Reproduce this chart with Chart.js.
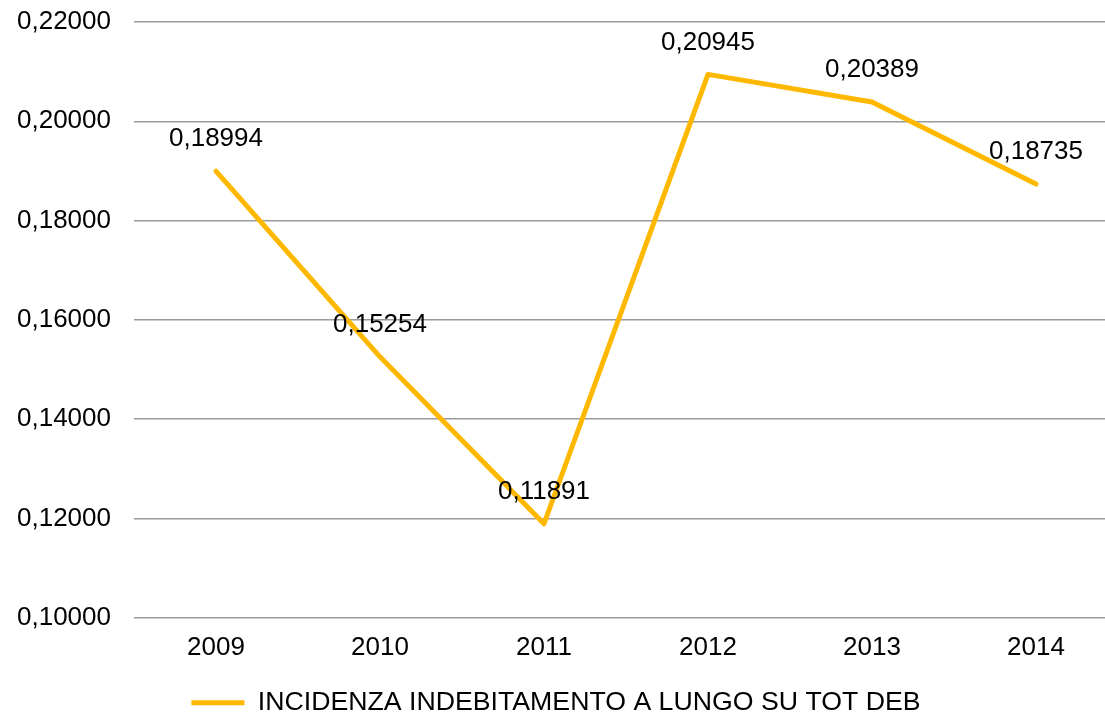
<!DOCTYPE html>
<html>
<head>
<meta charset="utf-8">
<script src="https://cdn.jsdelivr.net/npm/chart.js@4.4.1/dist/chart.umd.min.js"></script>
<style>
  html, body { margin: 0; padding: 0; background: #fff; overflow: hidden; }
  #wrap { width: 1118px; height: 716px; }
</style>
</head>
<body>
<div id="wrap"><canvas id="chartIndebitamento" width="1118" height="716"></canvas></div>
<script>
  // dati
  const anni = ['2009', '2010', '2011', '2012', '2013', '2014'];
  const incidenza = [0.18994, 0.15254, 0.11891, 0.20945, 0.20389, 0.18735];
  const nomeSerie = 'INCIDENZA INDEBITAMENTO A LUNGO SU TOT DEB';
  const yMin = 0.10, yMax = 0.22, yStep = 0.02;

  const coloreLinea = '#FFB800';
  const fontBase = { family: 'Arial, "Liberation Sans", sans-serif', size: 26 };

  const fmt = v => v.toFixed(5).replace('.', ',');

  // etichette dei valori sopra i punti
  const etichette = {
    id: 'etichette',
    afterDatasetsDraw(chart) {
      const ctx = chart.ctx;
      const meta = chart.getDatasetMeta(0);
      ctx.save();
      ctx.font = fontBase.size + 'px ' + fontBase.family;
      ctx.fillStyle = '#000';
      ctx.textAlign = 'center';
      ctx.textBaseline = 'middle';
      meta.data.forEach((pt, i) => {
        const p = pt.getProps(['x', 'y'], true);
        ctx.fillText(fmt(chart.data.datasets[0].data[i]), p.x, p.y - 32);
      });
      ctx.restore();
    }
  };

  const ctx = document.getElementById('chartIndebitamento').getContext('2d');
  const chart = new Chart(ctx, {
    type: 'line',
    data: {
      labels: anni,
      datasets: [{
        label: nomeSerie,
        data: incidenza,
        borderColor: coloreLinea,
        backgroundColor: coloreLinea,
        borderWidth: 5,
        tension: 0,
        pointRadius: 0,
        borderCapStyle: 'round',
        borderJoinStyle: 'round'
      }]
    },
    options: {
      responsive: false,
      animation: false,
      devicePixelRatio: 1,
      layout: { autoPadding: false, padding: { left: -6, right: 0, top: 22, bottom: -10 } },
      plugins: {
        tooltip: { enabled: false },
        legend: {
          position: 'bottom',
          labels: {
            color: '#000',
            font: { family: fontBase.family, size: 26.7 },
            boxWidth: 53,
            boxHeight: 5,
            padding: 10.5,
            generateLabels: () => [{
              text: nomeSerie,
              fillStyle: coloreLinea,
              strokeStyle: coloreLinea,
              lineWidth: 0,
              datasetIndex: 0
            }]
          }
        }
      },
      scales: {
        x: {
          offset: true,
          grid: { display: false, drawTicks: false, offset: true },
          border: { display: false },
          ticks: { color: '#000', font: fontBase, padding: 15, maxRotation: 0 }
        },
        y: {
          min: yMin,
          max: yMax,
          grid: { color: '#9a9a9a', lineWidth: 1.5, drawTicks: false },
          border: { display: false },
          afterFit: s => { s.paddingTop = 0; s.paddingBottom = 0; },
          ticks: {
            stepSize: yStep,
            color: '#000',
            font: fontBase,
            padding: 23,
            callback: v => fmt(v)
          }
        }
      }
    },
    plugins: [etichette]
  });
</script>
</body>
</html>
